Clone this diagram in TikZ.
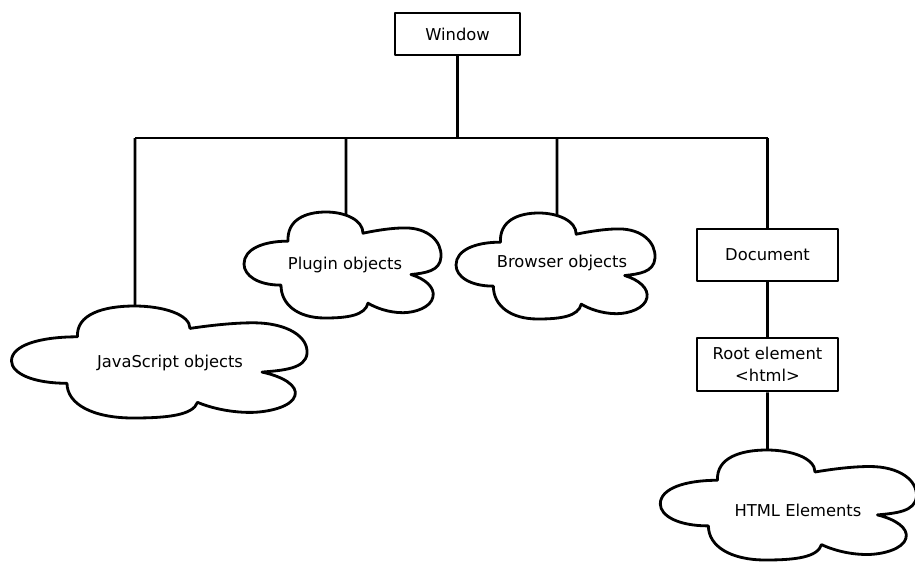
\documentclass[tikz,border=0pt]{standalone}
\usepackage{fontspec}
\setmainfont{DejaVu Sans}
\usepackage{tikz}
\usetikzlibrary{calc}
\usetikzlibrary{intersections}

% cloud outline: centre, half width, half height, path name
\newcommand{\cloudoutline}[4]{%
	\draw[name path=#4, shift={#1}, xscale=#2, yscale=#3]
		(-0.55, 0.45) .. controls (-0.56, 0.85) and (-0.38, 1.0) .. (-0.17, 1.0)
		.. controls (0.02, 1.0) and (0.2, 0.85) .. (0.2, 0.6)
		.. controls (0.35, 0.66) and (0.5, 0.7) .. (0.62, 0.7)
		.. controls (0.85, 0.7) and (0.99, 0.45) .. (0.98, 0.15)
		.. controls (0.97, -0.12) and (0.82, -0.15) .. (0.68, -0.18)
		.. controls (0.82, -0.26) and (0.92, -0.42) .. (0.9, -0.6)
		.. controls (0.88, -0.8) and (0.72, -0.9) .. (0.6, -0.9)
		.. controls (0.45, -0.9) and (0.32, -0.8) .. (0.25, -0.72)
		.. controls (0.22, -0.95) and (0.05, -1.0) .. (-0.18, -1.0)
		.. controls (-0.45, -1.0) and (-0.62, -0.75) .. (-0.62, -0.38)
		.. controls (-0.85, -0.38) and (-0.99, -0.2) .. (-0.99, 0.02)
		.. controls (-0.99, 0.3) and (-0.8, 0.45) .. (-0.55, 0.45) -- cycle;
}

\begin{document}
\begin{tikzpicture}[x=0.02cm, y=0.02cm, line width=1.6pt, line join=round,
		font=\fontsize{9.3}{12.5}\selectfont,
		box/.style={draw, inner sep=0pt, align=center}]
			% \draw[very thin, gray, dashed](0, 0)grid[step=50](915, -561);
			\useasboundingbox (0, 0) rectangle (915, -561);

			\node[box, minimum width=2.5cm, minimum height=0.84cm] (window) at (457.5, -34) {Window};
			\node[box, minimum width=2.82cm, minimum height=1.04cm] (doc) at (767.5, -255) {Document};
			\node[box, minimum width=2.82cm, minimum height=1.06cm] (root) at (767.5, -364.5) {Root element\\<html>};

			\node (js) at (170, -363) {JavaScript objects};
			\node (plugin) at (345, -265) {Plugin objects};
			\node (browser) at (562, -263) {Browser objects};
			\node (html) at (798, -510) {HTML Elements};

			\cloudoutline{(160, -362)}{150}{56}{js_cloud}
			\cloudoutline{(343, -265)}{100}{53}{plugin_cloud}
			\cloudoutline{(556, -266)}{101}{53}{browser_cloud}
			\cloudoutline{(789, -505)}{130}{55}{html_cloud}

			\coordinate (bus_js) at (135, -138);
			\coordinate (bus_plugin) at (346, -138);
			\coordinate (bus_browser) at (557, -138);
			\coordinate (bus_doc) at (doc.north |- bus_js);

			\draw (window) -- (window |- bus_js);
			\draw (bus_js) -- (bus_doc);
			\draw (bus_doc) -- (doc);
			\draw (doc) -- (root);

			\path[name path=js_drop] (bus_js) -- ++(0, -300);
			\path[name path=plugin_drop] (bus_plugin) -- ++(0, -300);
			\path[name path=browser_drop] (bus_browser) -- ++(0, -300);
			\path[name path=html_drop] (root.south) -- ++(0, -300);

			\draw[name intersections={of=js_drop and js_cloud, by={js_top}, sort by=js_drop}] (bus_js) -- (js_top);
			\draw[name intersections={of=plugin_drop and plugin_cloud, by={plugin_top}, sort by=plugin_drop}] (bus_plugin) -- (plugin_top);
			\draw[name intersections={of=browser_drop and browser_cloud, by={browser_top}, sort by=browser_drop}] (bus_browser) -- (browser_top);
			\draw[name intersections={of=html_drop and html_cloud, by={html_top}, sort by=html_drop}] (root.south) -- (html_top);
		\end{tikzpicture}
\end{document}
